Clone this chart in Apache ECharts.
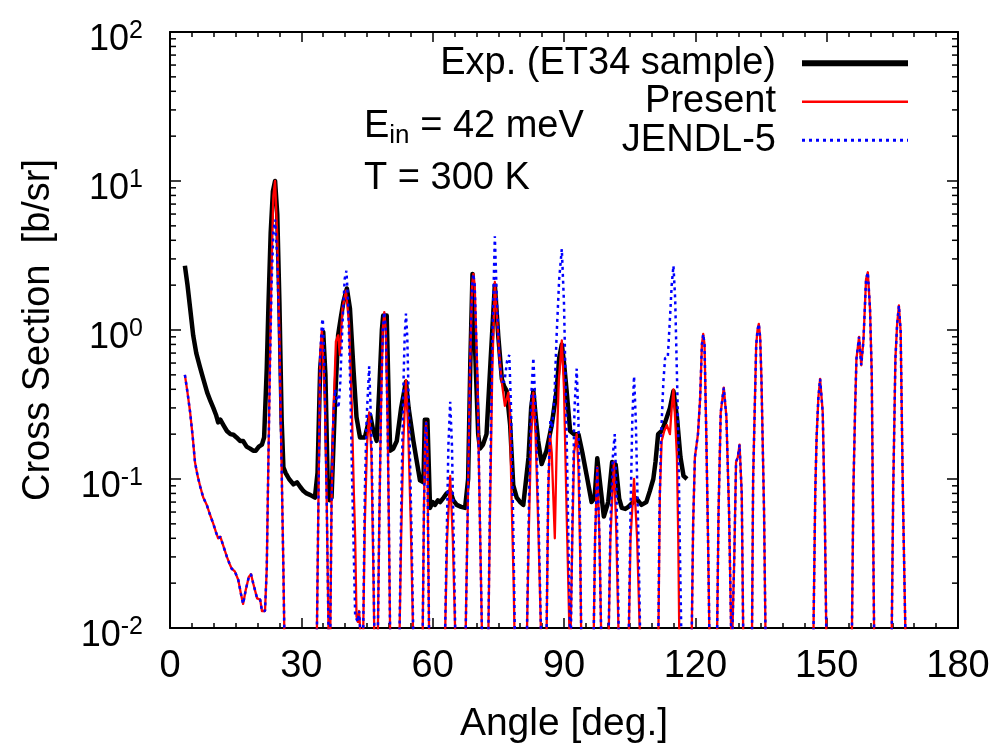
<!DOCTYPE html>
<html>
<head>
<meta charset="utf-8">
<script src="https://cdn.jsdelivr.net/npm/echarts@6/dist/echarts.min.js"></script>
<style>
html,body{margin:0;padding:0;background:#fff;}
#chart{width:994px;height:749px;}
</style>
</head>
<body>
<div id="chart"></div>
<script>
// ---- data (angle in degrees, cross section in b/sr) ----
const seriesNames = ['Exp. (ET34 sample)', 'Present', 'JENDL-5'];
const xTicks = [0, 30, 60, 90, 120, 150, 180];
const yDecades = [0.01, 0.1, 1, 10, 100];

const expData = [
[3.4,2.7],[4.0,2.0],[4.6,1.4],[5.3,0.92],[6.0,0.7],[6.8,0.57],[7.6,0.47],[8.5,0.38],[9.3,0.33],[9.9,0.30],
[10.5,0.27],[11.0,0.24],[11.5,0.25],[12.2,0.23],[13.0,0.21],[13.8,0.2],[14.5,0.198],[15.2,0.19],[16.0,0.18],[16.7,0.18],
[17.5,0.165],[18.3,0.16],[19.0,0.155],[19.6,0.155],[20.3,0.165],[21.0,0.17],[21.5,0.19],[22.1,0.55],[22.5,1.5],[23.0,4.5],
[23.5,8.5],[24.0,10.0],[24.5,6.0],[25.0,1.5],[25.5,0.25],[25.9,0.12],[26.4,0.11],[27.2,0.1],[28.2,0.092],[29.0,0.095],
[29.8,0.088],[30.5,0.083],[31.2,0.08],[32.1,0.078],[33.1,0.075],[33.7,0.11],[34.3,0.55],[35.0,0.97],[35.5,0.5],[36.0,0.1],
[36.5,0.072],[36.9,0.075],[37.7,0.33],[38.4,0.92],[39.0,1.2],[39.6,1.54],[40.4,1.9],[41.1,1.4],[41.9,0.55],[42.6,0.26],
[43.4,0.19],[44.5,0.19],[45.2,0.23],[45.7,0.27],[46.3,0.22],[47.2,0.18],[47.8,0.4],[48.4,1.0],[48.7,1.25],[49.5,1.25],
[50.0,0.3],[50.3,0.155],[51.0,0.16],[51.8,0.18],[52.8,0.3],[53.9,0.45],[54.5,0.3],[55.6,0.18],[56.4,0.13],[57.1,0.098],
[57.9,0.095],[58.2,0.25],[58.8,0.25],[59.4,0.064],[60.0,0.07],[60.5,0.067],[61.2,0.072],[61.7,0.07],[62.5,0.075],[63.2,0.08],
[64.0,0.083],[64.7,0.072],[65.5,0.067],[66.5,0.065],[67.4,0.064],[68.1,0.1],[68.6,0.6],[69.1,2.38],[69.4,2.38],[69.9,0.5],
[70.4,0.2],[70.8,0.16],[71.5,0.17],[72.3,0.2],[73.2,0.6],[74.2,2.0],[75.0,0.9],[75.8,0.47],[76.3,0.42],[76.9,0.39],
[77.7,0.23],[78.4,0.091],[79.2,0.075],[80.0,0.07],[80.7,0.067],[81.9,0.14],[82.5,0.3],[83.0,0.39],[83.6,0.25],[84.1,0.18],
[84.9,0.126],[86.0,0.155],[87.2,0.23],[88.3,0.39],[88.9,0.65],[89.5,0.8],[90.0,0.6],[90.6,0.39],[91.4,0.21],[92.3,0.2],
[93.3,0.2],[94.2,0.15],[95.2,0.105],[96.3,0.07],[97.0,0.075],[97.6,0.138],[98.3,0.09],[99.1,0.056],[100.1,0.07],[101.0,0.13],
[101.8,0.125],[102.6,0.074],[103.2,0.064],[104.0,0.063],[104.7,0.065],[105.8,0.07],[106.5,0.074],[107.7,0.067],[108.8,0.07],[109.6,0.083],
[110.4,0.1],[110.9,0.13],[111.5,0.2],[112.3,0.21],[113.1,0.24],[114.2,0.3],[115.0,0.39],[115.8,0.26],[116.6,0.14],[117.3,0.105],
[118.1,0.1]
];

const presentData = [
[3.4,0.50],[4.0,0.38],[4.6,0.28],[5.2,0.19],[5.7,0.13],[6.3,0.105],[6.9,0.089],[7.6,0.075],[8.4,0.067],[9.1,0.058],
[9.9,0.05],[10.5,0.044],[11.0,0.040],[11.5,0.041],[11.8,0.040],[12.4,0.034],[13.0,0.030],[13.6,0.027],[14.1,0.025],[14.8,0.024],
[15.6,0.021],[16.2,0.017],[16.7,0.0145],[17.3,0.018],[18.0,0.022],[18.5,0.023],[19.0,0.020],[19.9,0.0158],[20.6,0.0155],[21.0,0.013],
[21.7,0.013],[22.1,0.025],[22.45,0.12],[22.8,0.55],[23.2,2.6],[23.6,7.9],[24.0,10.0],[24.5,4.3],[25.0,0.92],[25.5,0.12],
[25.9,0.025],[26.1,0.01],[26.4,0.002],[33.2,0.002],[33.6,0.012],[33.9,0.07],[34.3,0.68],[34.7,1.0],[35.0,1.0],[35.4,0.33],
[35.8,0.07],[36.2,0.01],[36.5,0.004],[36.9,0.07],[37.3,0.26],[37.9,0.84],[38.4,0.92],[38.8,0.68],[39.4,1.4],[40.2,1.84],
[40.9,1.1],[41.5,0.33],[42.0,0.08],[42.3,0.04],[42.6,0.012],[42.9,0.011],[43.2,0.013],[43.6,0.008],[44.1,0.008],[44.5,0.05],
[45.0,0.17],[45.5,0.28],[46.0,0.15],[46.4,0.03],[46.8,0.005],[47.4,0.006],[47.8,0.05],[48.2,0.3],[48.6,1.0],[48.95,1.32],
[49.3,1.0],[49.7,0.25],[50.0,0.05],[50.3,0.008],[52.4,0.008],[52.8,0.04],[53.3,0.18],[53.9,0.46],[54.4,0.22],[55.0,0.05],
[55.5,0.01],[55.8,0.004],[57.7,0.008],[58.0,0.06],[58.3,0.2],[58.5,0.24],[58.8,0.15],[59.0,0.03],[59.2,0.008],[62.8,0.008],
[63.3,0.04],[64.0,0.105],[64.6,0.04],[65.2,0.008],[67.5,0.008],[68.0,0.06],[68.5,0.5],[69.0,2.0],[69.3,2.38],[69.6,2.0],
[70.2,0.5],[70.8,0.05],[71.3,0.008],[72.7,0.008],[73.1,0.06],[73.6,0.5],[74.2,2.1],[74.7,1.2],[75.2,0.7],[75.7,0.47],
[76.5,0.31],[77.3,0.38],[77.6,0.3],[78.0,0.08],[78.5,0.02],[78.8,0.006],[81.5,0.008],[82.0,0.05],[82.5,0.2],[83.0,0.38],
[83.5,0.2],[84.2,0.04],[84.9,0.006],[86.0,0.008],[86.4,0.08],[86.8,0.2],[87.2,0.15],[87.9,0.04],[88.3,0.15],[88.8,0.45],
[89.5,0.85],[90.0,0.4],[90.6,0.06],[91.4,0.006],[91.5,0.006],[91.9,0.04],[92.3,0.15],[92.9,0.2],[93.3,0.12],[93.7,0.03],
[94.0,0.006],[96.7,0.006],[97.1,0.04],[97.6,0.12],[98.1,0.04],[98.6,0.006],[100.1,0.006],[100.6,0.04],[101.4,0.13],[101.9,0.05],
[102.6,0.006],[104.7,0.006],[105.2,0.04],[106.0,0.10],[106.7,0.04],[107.5,0.006],[111.5,0.006],[111.9,0.08],[112.3,0.18],[112.9,0.21],
[113.5,0.23],[114.2,0.2],[114.6,0.3],[115.0,0.40],[115.4,0.25],[115.8,0.14],[116.1,0.04],[116.4,0.006],[119.1,0.006],[119.5,0.05],
[119.9,0.14],[120.6,0.2],[121.1,0.35],[121.5,0.8],[121.8,0.94],[122.1,0.8],[122.5,0.2],[122.9,0.04],[123.3,0.006],[124.9,0.006],
[125.3,0.06],[125.8,0.28],[126.5,0.41],[127.1,0.26],[127.7,0.06],[128.3,0.006],[128.6,0.006],[128.9,0.03],[129.3,0.13],[129.7,0.14],
[130.1,0.17],[130.6,0.08],[131.0,0.006],[132.9,0.006],[133.2,0.1],[133.9,0.79],[134.2,1.0],[134.5,1.1],[134.8,0.9],[135.1,0.47],
[135.7,0.06],[136.1,0.006],[146.9,0.006],[147.4,0.083],[147.7,0.19],[148.1,0.35],[148.5,0.47],[149.1,0.28],[149.6,0.05],[150.0,0.006],
[155.7,0.006],[156.1,0.083],[156.5,0.30],[156.8,0.64],[157.4,0.9],[157.9,0.58],[158.4,0.85],[159.0,2.2],[159.4,2.44],[159.9,1.39],
[160.3,0.5],[160.6,0.05],[160.9,0.006],[164.8,0.006],[165.2,0.083],[165.7,0.64],[166.1,1.1],[166.5,1.46],[166.9,0.98],[167.4,0.083],
[168.1,0.006]
];

const jendlData = [
[3.4,0.50],[4.0,0.38],[4.6,0.28],[5.2,0.19],[5.7,0.13],[6.3,0.105],[6.9,0.089],[7.6,0.075],[8.4,0.067],[9.1,0.058],
[9.9,0.05],[10.5,0.044],[11.0,0.040],[11.5,0.041],[11.8,0.040],[12.4,0.034],[13.0,0.030],[13.6,0.027],[14.1,0.025],[14.8,0.024],
[15.6,0.021],[16.2,0.017],[16.7,0.0145],[17.3,0.018],[18.0,0.022],[18.5,0.023],[19.0,0.020],[19.9,0.0158],[20.6,0.0155],[21.0,0.013],
[21.7,0.013],[22.1,0.025],[22.45,0.12],[22.8,0.5],[23.2,2.0],[23.6,4.5],[24.0,5.5],[24.5,3.0],[25.0,0.8],[25.5,0.12],
[25.9,0.025],[26.1,0.01],[26.4,0.002],[33.2,0.002],[33.6,0.012],[33.9,0.07],[34.3,0.68],[34.7,1.1],[34.9,1.19],[35.2,0.7],
[35.5,0.25],[35.8,0.07],[36.2,0.01],[36.5,0.004],[36.9,0.07],[37.3,0.25],[37.7,0.4],[38.1,0.35],[38.5,0.3],[38.9,0.45],
[39.4,1.1],[39.9,2.2],[40.3,2.5],[40.7,1.5],[41.2,0.4],[41.6,0.1],[42.0,0.03],[42.3,0.012],[42.6,0.012],[42.9,0.011],
[43.2,0.013],[43.6,0.008],[44.1,0.008],[44.5,0.08],[44.9,0.25],[45.5,0.57],[46.0,0.2],[46.4,0.04],[46.8,0.005],[47.4,0.006],
[47.8,0.05],[48.2,0.3],[48.6,1.0],[48.95,1.32],[49.3,1.0],[49.7,0.25],[50.0,0.05],[50.3,0.008],[52.4,0.008],[52.8,0.06],
[53.3,0.4],[53.6,0.9],[53.9,1.29],[54.2,0.9],[54.7,0.2],[55.2,0.04],[55.6,0.008],[57.7,0.008],[58.0,0.06],[58.3,0.2],
[58.5,0.24],[58.8,0.15],[59.0,0.03],[59.2,0.008],[62.8,0.008],[63.2,0.04],[63.6,0.17],[64.0,0.33],[64.4,0.17],[64.8,0.04],
[65.2,0.008],[67.5,0.008],[68.0,0.06],[68.5,0.5],[69.0,2.0],[69.3,2.38],[69.6,2.0],[70.2,0.5],[70.8,0.05],[71.3,0.008],
[72.7,0.008],[73.1,0.08],[73.6,0.8],[74.2,4.25],[74.7,1.5],[75.3,0.6],[75.8,0.45],[76.4,0.45],[77.0,0.62],[77.5,0.68],
[77.9,0.3],[78.4,0.05],[78.8,0.008],[81.5,0.008],[82.0,0.07],[82.5,0.35],[83.0,0.65],[83.5,0.3],[84.2,0.05],[84.9,0.006],
[86.0,0.008],[86.4,0.09],[86.9,0.25],[87.3,0.22],[87.8,0.35],[88.3,0.9],[88.9,2.2],[89.5,3.5],[90.0,1.5],[90.6,0.2],
[91.0,0.04],[91.4,0.008],[91.5,0.006],[91.9,0.05],[92.4,0.3],[92.9,0.55],[93.3,0.25],[93.7,0.04],[94.0,0.006],[96.7,0.006],
[97.1,0.04],[97.6,0.12],[98.1,0.04],[98.6,0.006],[100.1,0.006],[100.6,0.05],[101.2,0.15],[101.6,0.2],[102.0,0.08],[102.6,0.006],
[104.7,0.006],[105.2,0.06],[105.6,0.25],[106.0,0.49],[106.4,0.25],[107.0,0.04],[107.5,0.006],[111.5,0.006],[111.8,0.06],[112.2,0.2],
[112.7,0.45],[113.1,0.65],[113.7,0.65],[114.2,1.19],[114.6,2.0],[115.0,2.7],[115.4,1.6],[115.8,0.5],[116.1,0.2],[116.5,0.03],
[116.9,0.006],[119.1,0.006],[119.5,0.05],[119.9,0.14],[120.6,0.2],[121.1,0.35],[121.5,0.8],[121.8,0.94],[122.1,0.8],[122.5,0.2],
[122.9,0.04],[123.3,0.006],[124.9,0.006],[125.3,0.06],[125.8,0.28],[126.5,0.41],[127.1,0.26],[127.7,0.06],[128.3,0.006],[128.6,0.006],
[128.9,0.03],[129.3,0.13],[129.7,0.14],[130.1,0.17],[130.6,0.08],[131.0,0.006],[132.9,0.006],[133.2,0.1],[133.9,0.79],[134.2,1.0],
[134.5,1.1],[134.8,0.9],[135.1,0.47],[135.7,0.06],[136.1,0.006],[146.9,0.006],[147.4,0.083],[147.7,0.19],[148.1,0.35],[148.5,0.47],
[149.1,0.28],[149.6,0.05],[150.0,0.006],[155.7,0.006],[156.1,0.083],[156.5,0.30],[156.8,0.64],[157.4,0.9],[157.9,0.58],[158.4,0.85],
[159.0,2.2],[159.4,2.44],[159.9,1.39],[160.3,0.5],[160.6,0.05],[160.9,0.006],[164.8,0.006],[165.2,0.083],[165.7,0.64],[166.1,1.1],
[166.5,1.46],[166.9,0.98],[167.4,0.083],[168.1,0.006]
];

// ---- chart ----
const FONT = '"Liberation Sans", Arial, Helvetica, sans-serif';
const chart = echarts.init(document.getElementById('chart'), null, {renderer: 'canvas'});

// log minor tick values (2..9 within each decade)
const yMinorTicks = [];
for (let d = 0; d < yDecades.length - 1; d++) {
  for (let m = 2; m <= 9; m++) yMinorTicks.push([0, yDecades[d] * m]);
}

const axisCommon = {
  min: xTicks[0], max: xTicks[xTicks.length - 1], interval: 30,
  axisLine: {show: true, onZero: false, lineStyle: {color: '#000', width: 2}},
  axisTick: {show: true, inside: true, length: 10, lineStyle: {color: '#000', width: 1.5}},
  minorTick: {show: true, splitNumber: 6, length: 5, lineStyle: {color: '#000', width: 1.5}},
  splitLine: {show: false}
};
const yCommon = {
  type: 'log', logBase: 10, min: yDecades[0], max: yDecades[yDecades.length - 1],
  axisLine: {show: true, onZero: false, lineStyle: {color: '#000', width: 2}},
  axisTick: {show: true, inside: true, length: 11, lineStyle: {color: '#000', width: 1.5}},
  splitLine: {show: false}
};

chart.setOption({
  animation: false,
  backgroundColor: '#fff',
  grid: {left: 170, right: 36, top: 32, bottom: 118, containLabel: false},
  legend: {
    data: [
      {name: seriesNames[0], lineStyle: {width: 6}},
      {name: seriesNames[1], lineStyle: {width: 2.5}},
      {name: seriesNames[2], lineStyle: {width: 3}}
    ],
    orient: 'vertical', align: 'right',
    right: 83, top: 44, padding: 0,
    itemWidth: 106, itemHeight: 14, itemGap: 0,
    itemStyle: {opacity: 0},
    selectedMode: false,
    textStyle: {fontSize: 38, fontFamily: FONT, color: '#000', lineHeight: 38.5, padding: [0, 21, 0, 0]}
  },
  xAxis: [
    Object.assign({}, axisCommon, {
      type: 'value', position: 'bottom',
      name: 'Angle [deg.]', nameLocation: 'middle', nameGap: 77,
      nameTextStyle: {fontSize: 39, fontFamily: FONT, color: '#000'},
      axisLabel: {show: true, fontSize: 38, fontFamily: FONT, color: '#000', margin: 20}
    }),
    Object.assign({}, axisCommon, {type: 'value', position: 'top', axisLabel: {show: false}})
  ],
  yAxis: [
    Object.assign({}, yCommon, {
      position: 'left',
      name: 'Cross Section  [b/sr]', nameLocation: 'middle', nameGap: 112,
      nameTextStyle: {fontSize: 38, fontFamily: FONT, color: '#000'},
      axisLabel: {
        show: true, margin: 27, padding: [17, 0, 0, 0],
        formatter: function (v) {
          const e = Math.round(Math.log10(v));
          return '{b|10}{s|' + e + '}';
        },
        rich: {
          b: {fontSize: 36, fontFamily: FONT, color: '#000', lineHeight: 44},
          s: {fontSize: 25, fontFamily: FONT, color: '#000', lineHeight: 9, verticalAlign: 'top'}
        }
      }
    }),
    Object.assign({}, yCommon, {position: 'right', axisLabel: {show: false}})
  ],
  graphic: [
    {type: 'text', left: 364, top: 108, silent: true,
     style: {text: '{a|E}{b|in}{a| = 42 meV}', rich: {
       a: {fontSize: 38, fontFamily: FONT, fill: '#000', lineHeight: 44},
       b: {fontSize: 26, fontFamily: FONT, fill: '#000', lineHeight: 12, verticalAlign: 'bottom'}
     }}},
    {type: 'text', left: 364, top: 160, silent: true,
     style: {text: 'T = 300 K', fontSize: 38, fontFamily: FONT, fill: '#000'}}
  ],
  series: [
    {
      name: seriesNames[0], type: 'line', data: expData,
      xAxisIndex: 0, yAxisIndex: 0,
      symbol: 'none', showSymbol: false, clip: true,
      lineStyle: {color: '#000', width: 4.5, join: 'round'},
      itemStyle: {color: '#000'}, z: 2
    },
    {
      name: seriesNames[1], type: 'line', data: presentData,
      xAxisIndex: 0, yAxisIndex: 0,
      symbol: 'none', showSymbol: false, clip: true,
      lineStyle: {color: '#ff0000', width: 2.3, join: 'round'},
      itemStyle: {color: '#ff0000'}, z: 3
    },
    {
      name: seriesNames[2], type: 'line', data: jendlData,
      xAxisIndex: 0, yAxisIndex: 0,
      symbol: 'none', showSymbol: false, clip: true,
      lineStyle: {color: '#0000ff', width: 2.5, type: [3, 4]},
      itemStyle: {color: '#0000ff'}, z: 4
    },
    {
      name: 'yMinorTicks', type: 'custom', data: yMinorTicks,
      xAxisIndex: 0, yAxisIndex: 0, silent: true, z: 5,
      renderItem: function (params, api) {
        const p = api.coord([api.value(0), api.value(1)]);
        const cs = params.coordSys;
        const st = {stroke: '#000', lineWidth: 1.5};
        return {type: 'group', children: [
          {type: 'line', shape: {x1: cs.x, y1: p[1], x2: cs.x + 6, y2: p[1]}, style: st},
          {type: 'line', shape: {x1: cs.x + cs.width - 6, y1: p[1], x2: cs.x + cs.width, y2: p[1]}, style: st}
        ]};
      }
    }
  ]
});
</script>
</body>
</html>
